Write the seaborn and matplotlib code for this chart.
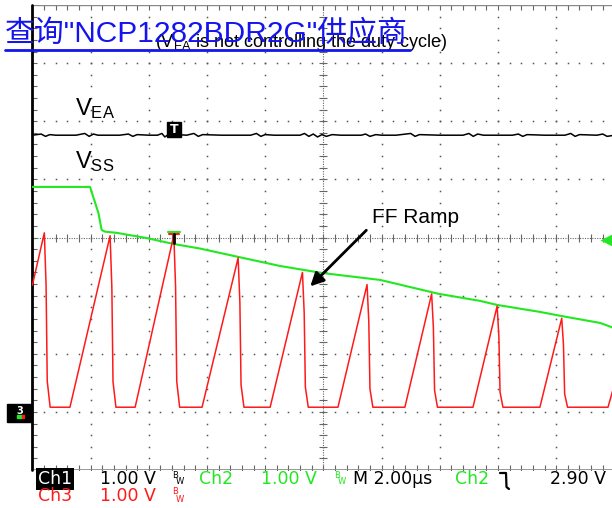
import numpy as np
import pandas as pd
import matplotlib
matplotlib.use("Agg")
import matplotlib.pyplot as plt
import seaborn as sns
from matplotlib.patches import Rectangle, FancyArrowPatch
from matplotlib.lines import Line2D

# ---- scope traces (time in us, 2 us/div; screen volts, 1 V/div) ----
vea_t = [0.0, 0.3, 0.45, 0.6, 0.8, 1.5, 1.8, 1.95, 2.1, 2.25, 3.0, 3.3, 3.45, 3.6, 4.0,
         4.3, 4.45, 4.55, 4.7, 4.85, 5.0, 5.3, 5.55, 5.7, 5.85, 6.5, 7.5, 7.7, 7.85, 8.0,
         8.3, 9.2, 9.35, 9.5, 9.65, 9.8, 9.95, 10.1, 10.3, 10.6, 11.3, 11.45, 11.6, 11.8,
         12.0, 12.5, 13.0, 13.15, 13.3, 14.0, 14.8, 15.0, 15.15, 15.3, 15.5, 16.5, 16.7,
         16.85, 17.0, 17.6, 18.3, 18.5, 18.65, 18.8, 19.4, 19.6, 19.75, 20.0]
vea_v = [4.71, 4.73, 4.69, 4.72, 4.71, 4.71, 4.74, 4.69, 4.73, 4.71, 4.71, 4.73, 4.69, 4.72, 4.71,
         4.71, 4.74, 4.68, 4.73, 4.69, 4.72, 4.71, 4.74, 4.69, 4.72, 4.71, 4.71, 4.74, 4.69, 4.72,
         4.71, 4.71, 4.74, 4.69, 4.73, 4.68, 4.72, 4.69, 4.72, 4.71, 4.71, 4.73, 4.69, 4.72,
         4.71, 4.71, 4.74, 4.69, 4.72, 4.71, 4.71, 4.74, 4.69, 4.73, 4.71, 4.71, 4.73,
         4.69, 4.72, 4.71, 4.71, 4.74, 4.69, 4.72, 4.71, 4.73, 4.69, 4.71]

vss_t = [0.0, 1.98, 2.09, 2.27, 2.38, 2.50, 2.90, 3.93, 4.84, 5.76, 7.13, 8.51, 9.95,
         11.95, 13.97, 15.38, 15.97, 17.44, 18.17, 19.51, 20.0]
vss_v = [3.82, 3.82, 3.65, 3.37, 3.08, 3.05, 3.03, 2.94, 2.84, 2.76, 2.61, 2.46, 2.34,
         2.22, 1.98, 1.86, 1.79, 1.67, 1.60, 1.48, 1.39]

ramp_first = (0.0, 2.13)
ramp_start_t = [1.29, 3.53, 5.83, 8.17, 10.50, 12.80, 15.14, 17.44, 19.78]
peak_t = [0.41, 2.67, 4.86, 7.07, 9.28, 11.50, 13.72, 15.97, 18.19]
peak_v = [3.03, 2.98, 2.99, 2.60, 2.35, 2.14, 1.98, 1.77, 1.56]
ramp_base = 0.03
ramp_last = (20.0, 0.42)

trig_level = 2.90

# build the FF ramp polyline from the read values
ff_t, ff_v = [ramp_first[0]], [ramp_first[1]]
for i, (pt, pv) in enumerate(zip(peak_t, peak_v)):
    h = pv - ramp_base
    ff_t += [pt, pt + 0.06, pt + 0.10, pt + 0.20]
    ff_v += [pv, pv - 0.3 * h, ramp_base + 0.15 * h, ramp_base]
    ff_t.append(ramp_start_t[i])
    ff_v.append(ramp_base)
ff_t.append(ramp_last[0])
ff_v.append(ramp_last[1])

vea_df = pd.DataFrame({"t": vea_t, "v": vea_v})
vss_df = pd.DataFrame({"t": vss_t, "v": vss_v})
ff_df = pd.DataFrame({"t": ff_t, "v": ff_v})

sns.set_style("white")
plt.rcParams["font.family"] = ["Liberation Sans", "Noto Sans CJK SC", "DejaVu Sans"]
plt.rcParams["mathtext.fontset"] = "custom"
plt.rcParams["mathtext.rm"] = "Liberation Sans"
plt.rcParams["mathtext.it"] = "Liberation Sans:italic"

W, H = 612, 508
GREEN = "#22e822"
RED = "#ff1a1a"
BLUE = "#1414ee"

fig = plt.figure(figsize=(W / 100, H / 100), dpi=100)
x0, x1, y0, y1 = 32.4, 614.4, 5.0, 470.0
ax = fig.add_axes([x0 / W, 1 - y1 / H, (x1 - x0) / W, (y1 - y0) / H])


def fp(px, py):
    return px / W, 1 - py / H


# ---- graticule ----
grid_c = "#555555"
ymin, ymax = -1.05, 6.95
yc = 2.95
for k in range(1, 10):
    xk = 2 * k
    if k == 5:
        continue
    ys = ymin + 0.2 * np.arange(1, 40)
    ax.plot([xk] * len(ys), ys, ls="none", marker="s", ms=1.1, mec="none", mfc=grid_c)
for k in range(1, 8):
    yk = ymin + k
    if k == 4:
        continue
    xs = 0.4 * np.arange(1, 50)
    ax.plot(xs, [yk] * len(xs), ls="none", marker="s", ms=1.1, mec="none", mfc=grid_c)

# centre cross with ticks
ax.plot([0, 20], [yc, yc], color="#666666", lw=0.8, ls=(0, (1, 1.2)))
ax.plot([10, 10], [ymin, ymax], color="#666666", lw=0.8, ls=(0, (1, 1.2)))
xs = 0.4 * np.arange(1, 50)
ax.plot(xs, [yc] * len(xs), ls="none", marker="|", ms=6, mew=0.8, color="#666666")
ys = ymin + 0.2 * np.arange(1, 40)
ax.plot([10] * len(ys), ys, ls="none", marker="_", ms=6, mew=0.8, color="#666666")

# border ticks
ax.plot(xs, [ymax] * len(xs), ls="none", marker="|", ms=7, mew=0.8, color="#666666")
ax.plot(xs, [ymin] * len(xs), ls="none", marker="|", ms=7, mew=0.8, color="#666666")
ax.plot([0] * len(ys), ys, ls="none", marker="_", ms=7, mew=0.8, color="#666666")
ax.plot([0, 20], [ymax, ymax], color="#888888", lw=1.0)
ax.plot([0, 20], [ymin, ymin], color="#888888", lw=1.2)
ax.plot([0, 0], [ymin, ymax], color="black", lw=2.0, clip_on=False)

# ---- traces ----
sns.lineplot(data=vea_df, x="t", y="v", ax=ax, color="black", lw=1.1,
             estimator=None, sort=False)
sns.lineplot(data=vss_df, x="t", y="v", ax=ax, color=GREEN, lw=1.5,
             estimator=None, sort=False)
sns.lineplot(data=ff_df, x="t", y="v", ax=ax, color=RED, lw=1.1,
             estimator=None, sort=False)
ax.set_xlim(0, 20)
ax.set_ylim(ymin, ymax)
ax.axis("off")

# trigger level marker (right edge)
ax.plot([19.72], [trig_level], marker="<", ms=9, color=GREEN, mec="none", clip_on=False)
ax.plot([19.72, 20.0], [trig_level, trig_level], color=GREEN, lw=2)

# horizontal position marker at third peak
fig.add_artist(Line2D([168 / W, 180 / W], [1 - 231.5 / H] * 2, color=GREEN, lw=1.5))
fig.add_artist(Line2D([169 / W, 179 / W], [1 - 233.5 / H] * 2, color=RED, lw=1.5))
fig.add_artist(Line2D([173.5 / W] * 2, [1 - 234 / H, 1 - 243 / H], color="black", lw=2))

# trigger "T" box on VEA
fig.add_artist(Rectangle(fp(166.7, 136.7), 14 / W, 15 / H, color="black"))
fig.text(*fp(173.7, 129.5), "T", color="white", fontsize=9, fontweight="bold",
         ha="center", va="center", family="DejaVu Sans")

# ground marker box on the left
fig.add_artist(Rectangle(fp(7.3, 421.7), 25 / W, 17.4 / H, color="black"))
fig.text(*fp(19.5, 411), "3", color="white", fontsize=7, fontweight="bold",
         ha="center", va="center", family="DejaVu Sans")
fig.add_artist(Rectangle(fp(16.5, 418), 5 / W, 3 / H, color=GREEN))
fig.add_artist(Rectangle(fp(21.5, 418), 3 / W, 3 / H, color=RED))

# ---- annotations ----
fig.text(*fp(75, 115), r"V$_{\mathrm{EA}}$", fontsize=17, color="black")
fig.text(*fp(75, 168), r"V$_{\mathrm{SS}}$", fontsize=17, color="black")
fig.text(*fp(372, 223), "FF Ramp", fontsize=15, color="black")
arrow = FancyArrowPatch(fp(368.3, 228.3), fp(308.3, 288.3), transform=fig.transFigure,
                        arrowstyle="-|>", mutation_scale=20, lw=2, color="black")
fig.add_artist(arrow)

fig.text(*fp(155, 47), r"(V$_{\mathrm{EA}}$ is not controlling the duty cycle)",
         fontsize=13, color="black", zorder=5)
fig.text(*fp(5, 42), "查询\"NCP1282BDR2G\"供应商", fontsize=21.5, color=BLUE, zorder=6)
fig.add_artist(Line2D([5 / W, 410 / W], [1 - 50 / H] * 2, color=BLUE, lw=2, zorder=6))

# ---- status bar ----
row1, row2 = 479, 496
sfont = dict(fontsize=12.5, va="center", family="DejaVu Sans")
fig.text(*fp(38, row1), "Ch1", color="white",
         bbox=dict(facecolor="black", edgecolor="none", pad=1.2), **sfont)
fig.text(*fp(100, row1), "1.00 V", color="black", **sfont)
fig.text(*fp(199, row1), "Ch2", color=GREEN, **sfont)
fig.text(*fp(261, row1), "1.00 V", color=GREEN, **sfont)
fig.text(*fp(353, row1), "M 2.00µs", color="black", **sfont)
fig.text(*fp(455, row1), "Ch2", color=GREEN, **sfont)
fig.text(*fp(550, row1), "2.90 V", color="black", **sfont)
fig.text(*fp(38, row2), "Ch3", color=RED, **sfont)
fig.text(*fp(100, row2), "1.00 V", color=RED, **sfont)

for bx, by, col in [(172, row1, "black"), (334, row1, GREEN), (172, row2, RED)]:
    fig.text(*fp(bx, by - 4), "B", color=col, fontsize=6, va="center", family="DejaVu Sans")
    fig.text(*fp(bx + 3.5, by + 3), "W", color=col, fontsize=6, va="center", family="DejaVu Sans")

# falling-edge trigger symbol
fig.add_artist(Line2D([500 / W, 506 / W, 506.5 / W, 509 / W],
                      [1 - 473 / H, 1 - 473 / H, 1 - 487 / H, 1 - 489 / H],
                      color="black", lw=1.6))

fig.savefig("out.png", dpi=100)
